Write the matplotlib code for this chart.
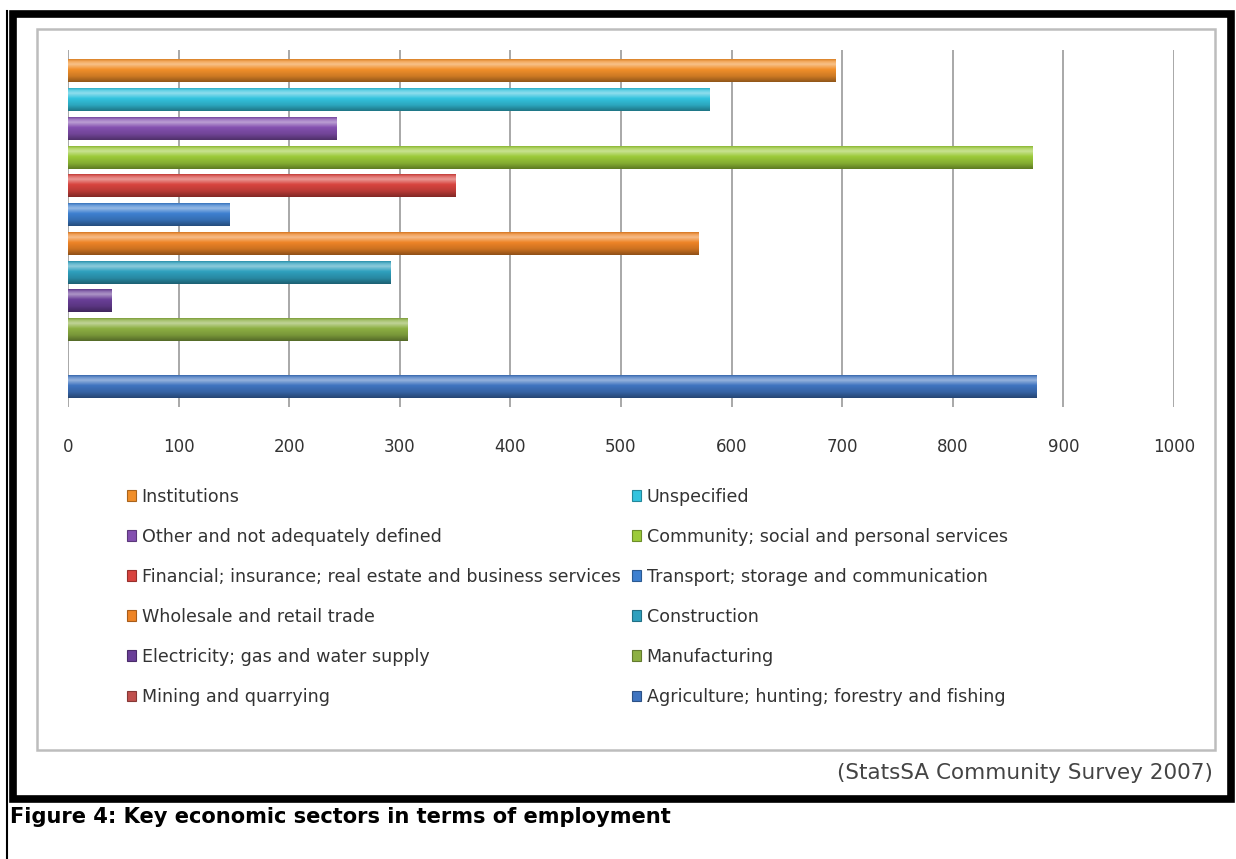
import numpy as np
import matplotlib
matplotlib.use('Agg')
import matplotlib.pyplot as plt
from matplotlib.patches import Rectangle, Patch
from matplotlib.lines import Line2D
from matplotlib.colors import LinearSegmentedColormap, to_rgb

# data (thousands employed), bottom to top as in the chart
sectors = ['Agriculture; hunting; forestry and fishing',
           'Mining and quarrying',
           'Manufacturing',
           'Electricity; gas and water supply',
           'Construction',
           'Wholesale and retail trade',
           'Transport; storage and communication',
           'Financial; insurance; real estate and business services',
           'Community; social and personal services',
           'Other and not adequately defined',
           'Unspecified',
           'Institutions']
employed = [876, 0, 307, 39, 292, 570, 146, 350, 872, 243, 580, 694]
bar_colors = ['#3F74C0', '#C0504D', '#8DB043', '#6A3F98', '#2FA0BE', '#EE8426',
              '#3E80D0', '#D8443F', '#9CCB3A', '#8450B0', '#33C3DE', '#F18F2A']
xticks = [0, 100, 200, 300, 400, 500, 600, 700, 800, 900, 1000]

W, H = 1236, 859
fig = plt.figure(figsize=(W / 100, H / 100), dpi=100)
fig.patch.set_facecolor('white')


def fx(x):
    return x / W


def fy(y):
    return 1 - y / H


# page line and thick black frame
fig.add_artist(Line2D([fx(7), fx(7)], [fy(11), fy(859)], color='black', lw=1.5))
fig.add_artist(Rectangle((fx(13), fy(799)), fx(1231) - fx(13), fy(14) - fy(799),
                         fill=False, edgecolor='black', lw=5.5))
# inner grey chart frame
fig.add_artist(Rectangle((fx(37), fy(750)), fx(1215) - fx(37), fy(29) - fy(750),
                         fill=False, edgecolor='#BDBDBD', lw=1.8))

ax = fig.add_axes([fx(68), fy(407), fx(1174) - fx(68), fy(50) - fy(407)])
ypos = np.arange(len(sectors))
bars = ax.barh(ypos, employed, height=0.8, color=bar_colors, zorder=2)

# cylinder-like shading on every bar
grad = np.linspace(0, 1, 64).reshape(-1, 1)
for bar, c in zip(bars, bar_colors):
    w = bar.get_width()
    if w <= 0:
        continue
    base = np.array(to_rgb(c))
    dark = base * 0.6
    light = base + (1 - base) * 0.45
    cmap = LinearSegmentedColormap.from_list('shade', [
        (0.0, dark), (0.25, base * 0.85), (0.55, base), (0.78, light),
        (0.9, base + (1 - base) * 0.25), (1.0, base * 0.9)])
    x0, y0 = bar.get_xy()
    ax.imshow(grad, extent=[x0, x0 + w, y0, y0 + bar.get_height()], origin='lower',
              cmap=cmap, aspect='auto', clip_path=bar, zorder=3, interpolation='bilinear')

ax.set_xlim(0, 1000)
ax.set_ylim(-0.7, 11.73)
ax.set_xticks(xticks)
ax.set_yticks([])
ax.grid(axis='x', color='#999999', lw=1.2, zorder=1)
for s in ax.spines.values():
    s.set_visible(False)
ax.tick_params(axis='x', length=0, pad=22, labelsize=12, labelcolor='#333333')

# legend, two columns in row order of the original
handles = [Patch(facecolor=c, edgecolor=np.array(to_rgb(c)) * 0.7, lw=0.8) for c in bar_colors]
order = [11, 9, 7, 5, 3, 1, 10, 8, 6, 4, 2, 0]
fig.legend([handles[i] for i in order], [sectors[i] for i in order], ncol=2,
           loc='upper left', bbox_to_anchor=(fx(118), fy(479)), frameon=False,
           fontsize=12.6, labelcolor='#333333', handlelength=0.55, handleheight=0.55,
           handletextpad=0.3, columnspacing=0.65, labelspacing=1.26, borderpad=0)

fig.text(fx(1213), fy(773), '(StatsSA Community Survey 2007)', ha='right', va='center',
         fontsize=15.5, color='#444444')
fig.text(fx(10), fy(817), 'Figure 4: Key economic sectors in terms of employment',
         ha='left', va='center', fontsize=15.1, fontweight='bold', color='black')

fig.savefig('out.png', dpi=100)
